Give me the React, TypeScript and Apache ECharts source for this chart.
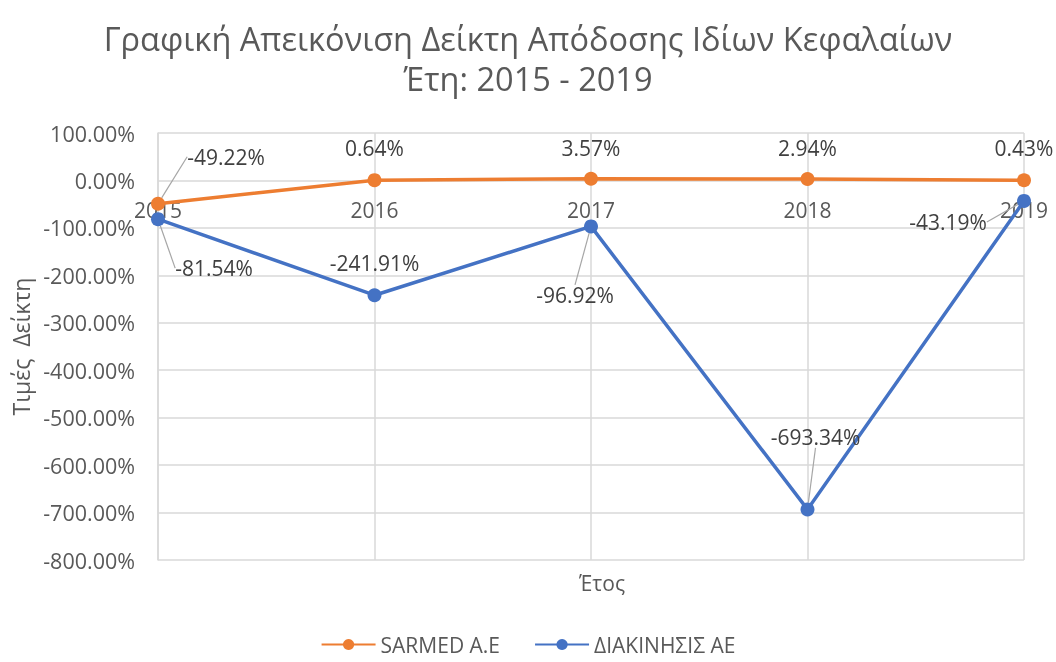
import React, { useEffect, useRef } from "react";
import * as echarts from "echarts";

const years = ["2015", "2016", "2017", "2018", "2019"];
const sarmed = [-49.22, 0.64, 3.57, 2.94, 0.43];
const diakinisis = [-81.54, -241.91, -96.92, -693.34, -43.19];
const yTicksMin = -800;
const yTicksMax = 100;

// label offsets (pixels from point) — layout only
const sarmedLabelOffsets = [[68, -47], [0, -32], [0, -31], [0, -31], [0, -32]];
const diakLabelOffsets = [[56, 49], [0, -32], [-16, 69], [8, -72], [-76, 21]];
const sarmedLeader = [true, false, false, false, false];
const diakLeader = [true, false, true, true, true];

const FONT = "'Open Sans', 'Noto Sans', sans-serif";
const TXT = "#595959";

export default function App() {
  const ref = useRef<HTMLDivElement>(null);
  useEffect(() => {
    document.body.style.margin = "0";
    const chart = echarts.init(ref.current!, null, { renderer: "svg" });
    const mkData = (vals: number[], leaders: boolean[]) =>
      vals.map((v, i) => ({
        value: v,
        labelLine: { show: leaders[i] },
      }));
    const series: any[] = [
      { name: "SARMED A.E", vals: sarmed, color: "#ED7D31", offs: sarmedLabelOffsets, lead: sarmedLeader },
      { name: "ΔΙΑΚΙΝΗΣΙΣ ΑΕ", vals: diakinisis, color: "#4472C4", offs: diakLabelOffsets, lead: diakLeader },
    ].map((s) => ({
      name: s.name,
      type: "line",
      z: 3,
      data: mkData(s.vals, s.lead),
      symbol: "circle",
      symbolSize: 14,
      lineStyle: { color: s.color, width: 3.5 },
      itemStyle: { color: s.color },
      color: s.color,
      label: {
        show: true,
        position: "inside",
        formatter: (p: any) => p.value.toFixed(2) + "%",
        color: "#404040",
        fontSize: 21,
        fontFamily: FONT,
      },
      labelLine: { show: true, lineStyle: { color: "#A6A6A6", width: 1.2 } },
      labelLayout: (p: any) => ({ dx: s.offs[p.dataIndex][0], dy: s.offs[p.dataIndex][1] }),
    }));
    // category labels sitting on the zero line (as the axis crosses at 0)
    series.push({
      name: "axisLabels",
      type: "scatter",
      z: 1,
      silent: true,
      symbolSize: 0,
      itemStyle: { opacity: 1 },
      data: years.map((y) => [y, 0]),
      label: {
        show: true,
        position: "bottom",
        distance: 19,
        formatter: (p: any) => p.value[0],
        fontSize: 21,
        color: TXT,
        opacity: 1,
        fontFamily: FONT,
      },
      tooltip: { show: false },
    });

    const titleStyle = { fontSize: 32.5, fontWeight: "normal", color: TXT, lineHeight: 36, fontFamily: FONT };
    chart.setOption({
      animation: false,
      textStyle: { fontFamily: FONT },
      title: [
        {
          text: "Γραφική Απεικόνιση Δείκτη Απόδοσης Ιδίων Κεφαλαίων",
          left: "center",
          top: 20,
          padding: 0,
          textStyle: titleStyle,
        },
        {
          text: "Έτη: 2015 - 2019",
          left: "center",
          top: 60,
          padding: 0,
          textStyle: titleStyle,
        },
        {
          text: "Έτος",
          left: 597,
          top: 567,
          textAlign: "center",
          textStyle: { fontSize: 21, fontWeight: "normal", color: TXT, fontFamily: FONT },
        },
      ],
      legend: {
        bottom: 2,
        left: "center",
        itemWidth: 54,
        itemHeight: 14,
        itemGap: 34,
        textStyle: { fontSize: 21, color: TXT, fontFamily: FONT },
        data: ["SARMED A.E", "ΔΙΑΚΙΝΗΣΙΣ ΑΕ"],
      },
      grid: { left: 158, right: 32, top: 133, bottom: 102, containLabel: false },
      xAxis: {
        type: "category",
        data: years,
        boundaryGap: false,
        axisLine: { show: false },
        axisTick: { show: false },
        axisLabel: { show: false },
        splitLine: { show: true, lineStyle: { color: "#D9D9D9", width: 1.5 } },
      },
      yAxis: {
        type: "value",
        min: yTicksMin,
        max: yTicksMax,
        interval: 100,
        name: "Τιμές  Δείκτη",
        nameLocation: "middle",
        nameGap: 126,
        nameTextStyle: { fontSize: 23, color: TXT, fontFamily: FONT },
        axisLine: { show: true, lineStyle: { color: "#D9D9D9", width: 1.5 } },
        axisTick: { show: false },
        axisLabel: {
          fontSize: 21.5,
          color: TXT,
          margin: 23,
          fontFamily: FONT,
          formatter: (v: number) => v.toFixed(2) + "%",
        },
        splitLine: { show: true, lineStyle: { color: "#D9D9D9", width: 1.5 } },
      },
      series,
    });
    return () => chart.dispose();
  }, []);
  return <div ref={ref} style={{ width: 1056, height: 662, position: "fixed", left: 0, top: 0 }} />;
}
